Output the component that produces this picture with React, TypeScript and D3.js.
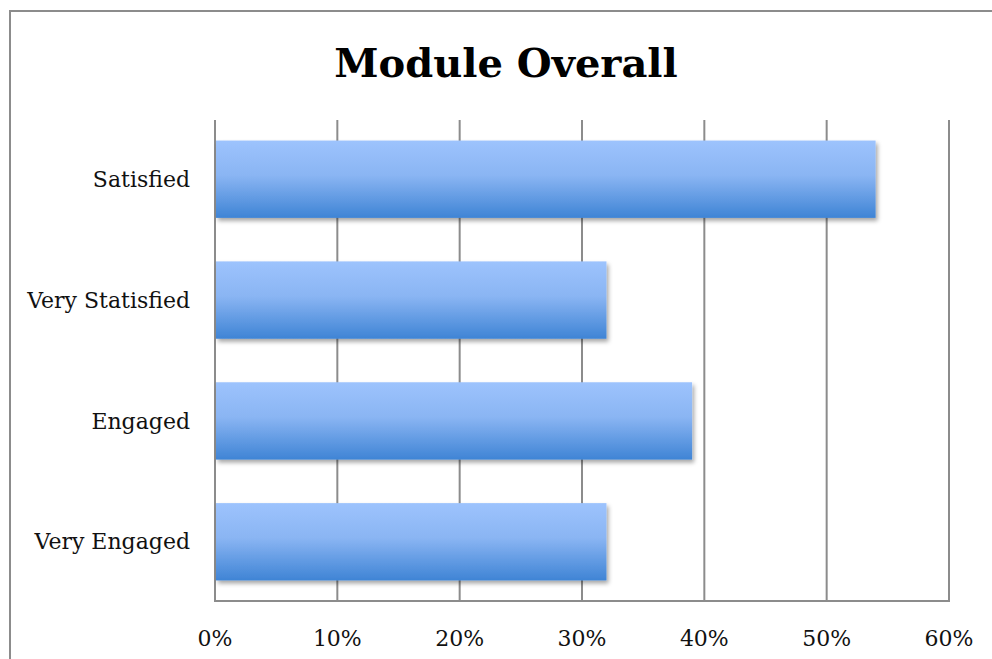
import { useEffect, useRef } from 'react';
import * as d3 from 'd3';

const categories = ['Satisfied', 'Very Statisfied', 'Engaged', 'Very Engaged'];
const values = [0.54, 0.32, 0.39, 0.32];
const xTicks = [0, 0.1, 0.2, 0.3, 0.4, 0.5, 0.6];
const title = 'Module Overall';

export default function App() {
  const svgRef = useRef<SVGSVGElement>(null);

  useEffect(() => {
    if (!svgRef.current) return;
    document.body.style.margin = '0';
    const svg = d3.select(svgRef.current);
    svg.selectAll('*').remove();

    const W = 992;
    const H = 659;
    const left = 215;
    const right = 949;
    const top = 120;
    const bottom = 601;
    const serif = "'DejaVu Serif', 'Liberation Serif', serif";

    const defs = svg.append('defs');
    const grad = defs
      .append('linearGradient')
      .attr('id', 'barGrad')
      .attr('x1', 0)
      .attr('y1', 0)
      .attr('x2', 0)
      .attr('y2', 1);
    grad.append('stop').attr('offset', '0%').attr('stop-color', '#9dc3fd');
    grad.append('stop').attr('offset', '45%').attr('stop-color', '#8ab5f3');
    grad.append('stop').attr('offset', '100%').attr('stop-color', '#3f84d5');

    const filter = defs
      .append('filter')
      .attr('id', 'shadow')
      .attr('x', '-5%')
      .attr('y', '-10%')
      .attr('width', '115%')
      .attr('height', '140%');
    filter
      .append('feDropShadow')
      .attr('dx', 2)
      .attr('dy', 3)
      .attr('stdDeviation', 2)
      .attr('flood-color', '#000')
      .attr('flood-opacity', 0.35);

    svg.append('rect').attr('width', W).attr('height', H).attr('fill', '#fff');

    // outer border
    svg
      .append('rect')
      .attr('x', 10)
      .attr('y', 11)
      .attr('width', 1100)
      .attr('height', 800)
      .attr('fill', 'none')
      .attr('stroke', '#8c8c8c')
      .attr('stroke-width', 2);

    const x = d3.scaleLinear().domain([0, 0.6]).range([left, right]);
    const y = d3
      .scaleBand()
      .domain(categories)
      .range([top, bottom])
      .paddingInner(0.36)
      .paddingOuter(0.17);

    // gridlines
    svg
      .append('g')
      .selectAll('line')
      .data(xTicks)
      .enter()
      .append('line')
      .attr('x1', (d) => x(d))
      .attr('x2', (d) => x(d))
      .attr('y1', top)
      .attr('y2', bottom)
      .attr('stroke', '#8c8c8c')
      .attr('stroke-width', 2);

    // bottom axis line
    svg
      .append('line')
      .attr('x1', left - 1)
      .attr('x2', right + 1)
      .attr('y1', bottom)
      .attr('y2', bottom)
      .attr('stroke', '#8c8c8c')
      .attr('stroke-width', 2);

    // bars
    svg
      .append('g')
      .selectAll('rect')
      .data(values)
      .enter()
      .append('rect')
      .attr('x', x(0) + 1)
      .attr('y', (d, i) => y(categories[i]) || 0)
      .attr('width', (d) => x(d) - x(0) - 1)
      .attr('height', y.bandwidth())
      .attr('fill', 'url(#barGrad)')
      .attr('filter', 'url(#shadow)');

    // category labels
    svg
      .append('g')
      .selectAll('text')
      .data(categories)
      .enter()
      .append('text')
      .attr('x', 190)
      .attr('y', (d) => (y(d) || 0) + y.bandwidth() / 2)
      .attr('dy', '0.35em')
      .attr('text-anchor', 'end')
      .attr('font-family', serif)
      .attr('font-size', 22)
      .attr('fill', '#111')
      .text((d) => d);

    // tick labels
    svg
      .append('g')
      .selectAll('text')
      .data(xTicks)
      .enter()
      .append('text')
      .attr('x', (d) => x(d))
      .attr('y', 646)
      .attr('text-anchor', 'middle')
      .attr('font-family', serif)
      .attr('font-size', 22)
      .attr('fill', '#111')
      .text((d) => d3.format('.0%')(d));

    // title
    svg
      .append('text')
      .attr('x', 506)
      .attr('y', 77)
      .attr('text-anchor', 'middle')
      .attr('font-family', serif)
      .attr('font-weight', 'bold')
      .attr('font-size', 40)
      .attr('fill', '#000')
      .text(title);
  }, []);

  return (
    <svg
      ref={svgRef}
      width={992}
      height={659}
      style={{ position: 'absolute', left: 0, top: 0, display: 'block' }}
    />
  );
}
